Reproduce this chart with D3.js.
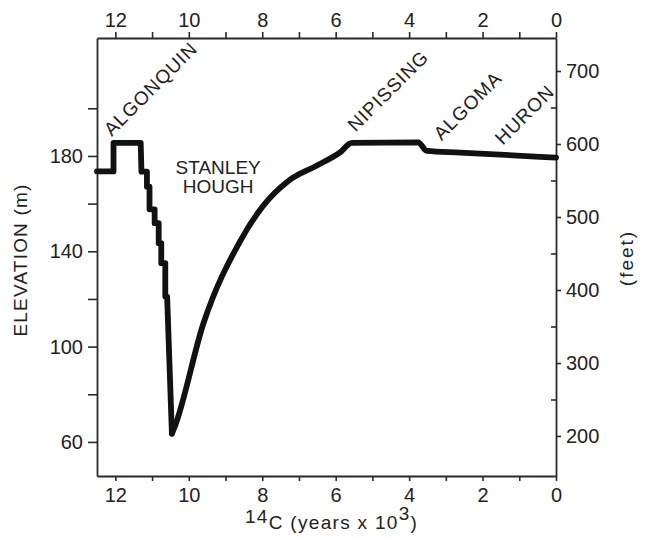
<!DOCTYPE html>
<html>
<head>
<meta charset="utf-8">
<script src="https://cdn.jsdelivr.net/npm/d3@7/dist/d3.min.js"></script>
<style>
  html, body { margin: 0; padding: 0; background: #fff; }
  svg text { font-family: "Liberation Sans", Arial, Helvetica, sans-serif; fill: #222; }
</style>
</head>
<body>
<svg id="chart" width="645" height="538"></svg>
<script>
// ---- data ----
// stepped Algonquin-to-Stanley fall
const stepYears = [12.5, 12.05, 12.05, 11.31, 11.29, 11.14, 11.14, 11.07, 11.07, 10.93, 10.93, 10.82, 10.82, 10.75, 10.75, 10.64, 10.64, 10.59, 10.46];
const stepElev  = [173.5, 173.5, 185.5, 185.5, 173.4, 173.4, 167.1, 167.1, 157.6, 157.6, 151.8, 151.8, 143.4, 143.4, 135.0, 135.0, 121.0, 121.0, 63.5];
// smooth rise from Stanley-Hough low to present
const riseYears = [10.46, 10.38, 9.60, 8.60, 8.00, 7.29, 6.51, 5.88, 5.56, 3.75, 3.52, 2.61, 0];
const riseElev  = [63.5, 66.5, 109.8, 144.3, 158.6, 169.5, 176.0, 181.5, 185.5, 185.7, 182.1, 181.4, 179.3];

const yearTicks = [12, 11, 10, 9, 8, 7, 6, 5, 4, 3, 2, 1, 0];
const yearLabels = [12, 10, 8, 6, 4, 2, 0];
const elevTicks = [60, 80, 100, 120, 140, 160, 180, 200];
const elevLabels = [60, 100, 140, 180];
const feetMajor = [200, 300, 400, 500, 600, 700];
const feetMinor = [250, 350, 450, 550, 650];

const stageNames = ["ALGONQUIN", "NIPISSING", "ALGOMA", "HURON"];
const stageYears = [12.1, 5.46, 3.12, 1.45];
const stageElev = [188.0, 189.8, 186.2, 184.3];
const lowName = ["STANLEY", "HOUGH"];

// ---- layout ----
const L = 97, R = 556, T = 38, B = 476;
const svg = d3.select("#chart");

const x = d3.scaleLinear().domain([12.5, 0]).range([L, R]);
const y = d3.scaleLinear().domain([45.7, 229.5]).range([B, T]);
const yFt = d3.scaleLinear().domain([145.2, 745.2]).range([B, T]);

const axisColor = "#2a2a2a";
function styleAxis(g) {
  g.selectAll("path.domain").attr("stroke", axisColor).attr("stroke-width", 1.8);
  g.selectAll(".tick line").attr("stroke", axisColor).attr("stroke-width", 1.6);
  g.selectAll(".tick text").attr("fill", "#222").style("font-size", "20px")
    .style("font-family", '"Liberation Sans", Arial, sans-serif');
}

const fmtYear = d => yearLabels.includes(d) ? d : "";

svg.append("g").attr("transform", `translate(0,${B})`)
  .call(d3.axisBottom(x).tickValues(yearTicks).tickFormat(fmtYear).tickSize(5).tickSizeOuter(0).tickPadding(7))
  .call(styleAxis);
svg.append("g").attr("transform", `translate(0,${T})`)
  .call(d3.axisTop(x).tickValues(yearTicks).tickFormat(fmtYear).tickSize(6).tickSizeOuter(0).tickPadding(5))
  .call(styleAxis);
svg.append("g").attr("transform", `translate(${L},0)`)
  .call(d3.axisLeft(y).tickValues(elevTicks).tickFormat(d => elevLabels.includes(d) ? d : "").tickSize(9).tickSizeOuter(0).tickPadding(5))
  .call(styleAxis);
svg.append("g").attr("transform", `translate(${R},0)`)
  .call(d3.axisRight(yFt).tickValues(feetMajor).tickSize(5).tickSizeOuter(0).tickPadding(5))
  .call(styleAxis);
svg.append("g").attr("transform", `translate(${R},0)`)
  .call(d3.axisLeft(yFt).tickValues(feetMinor).tickFormat("").tickSize(5).tickSizeOuter(0))
  .call(styleAxis)
  .call(g => g.select("path.domain").remove());

// curve
const stepPts = stepYears.map((v, i) => [v, stepElev[i]]);
const risePts = riseYears.map((v, i) => [v, riseElev[i]]);
const lineStyle = p => p.attr("fill", "none").attr("stroke", "#111")
  .attr("stroke-width", 5.8).attr("stroke-linejoin", "round").attr("stroke-linecap", "round");
svg.append("path").datum(stepPts).call(lineStyle)
  .attr("d", d3.line().x(d => x(d[0])).y(d => y(d[1])));
svg.append("path").datum(risePts).call(lineStyle)
  .attr("d", d3.line().curve(d3.curveMonotoneX).x(d => x(d[0])).y(d => y(d[1])));

// stage labels (rotated)
stageNames.forEach((name, i) => {
  svg.append("text")
    .attr("transform", `translate(${x(stageYears[i])},${y(stageElev[i])}) rotate(-45)`)
    .style("font-size", "19px")
    .style("letter-spacing", "1px")
    .text(name);
});

const low = svg.append("text")
  .attr("text-anchor", "middle")
  .style("font-size", "19px");
lowName.forEach((w, i) => {
  low.append("tspan").attr("x", x(9.2)).attr("y", y(172.4) + i * 19).text(w);
});

svg.append("text")
  .attr("transform", `translate(27,260) rotate(-90)`)
  .attr("text-anchor", "middle")
  .style("font-size", "19px")
  .style("letter-spacing", "1.2px")
  .text("ELEVATION (m)");

svg.append("text")
  .attr("transform", `translate(633,258) rotate(-90)`)
  .attr("text-anchor", "middle")
  .style("font-size", "19px")
  .style("letter-spacing", "2px")
  .text("(feet)");

const xt = svg.append("text")
  .attr("x", 245).attr("y", 529)
  .style("font-size", "19px")
  .style("letter-spacing", "1.3px");
xt.append("tspan").attr("dy", -6).text("14");
xt.append("tspan").attr("dy", 6).text("C");
xt.append("tspan").text(" (years x 10");
xt.append("tspan").attr("dy", -9).text("3");
xt.append("tspan").attr("dy", 9).text(")");
</script>
</body>
</html>
